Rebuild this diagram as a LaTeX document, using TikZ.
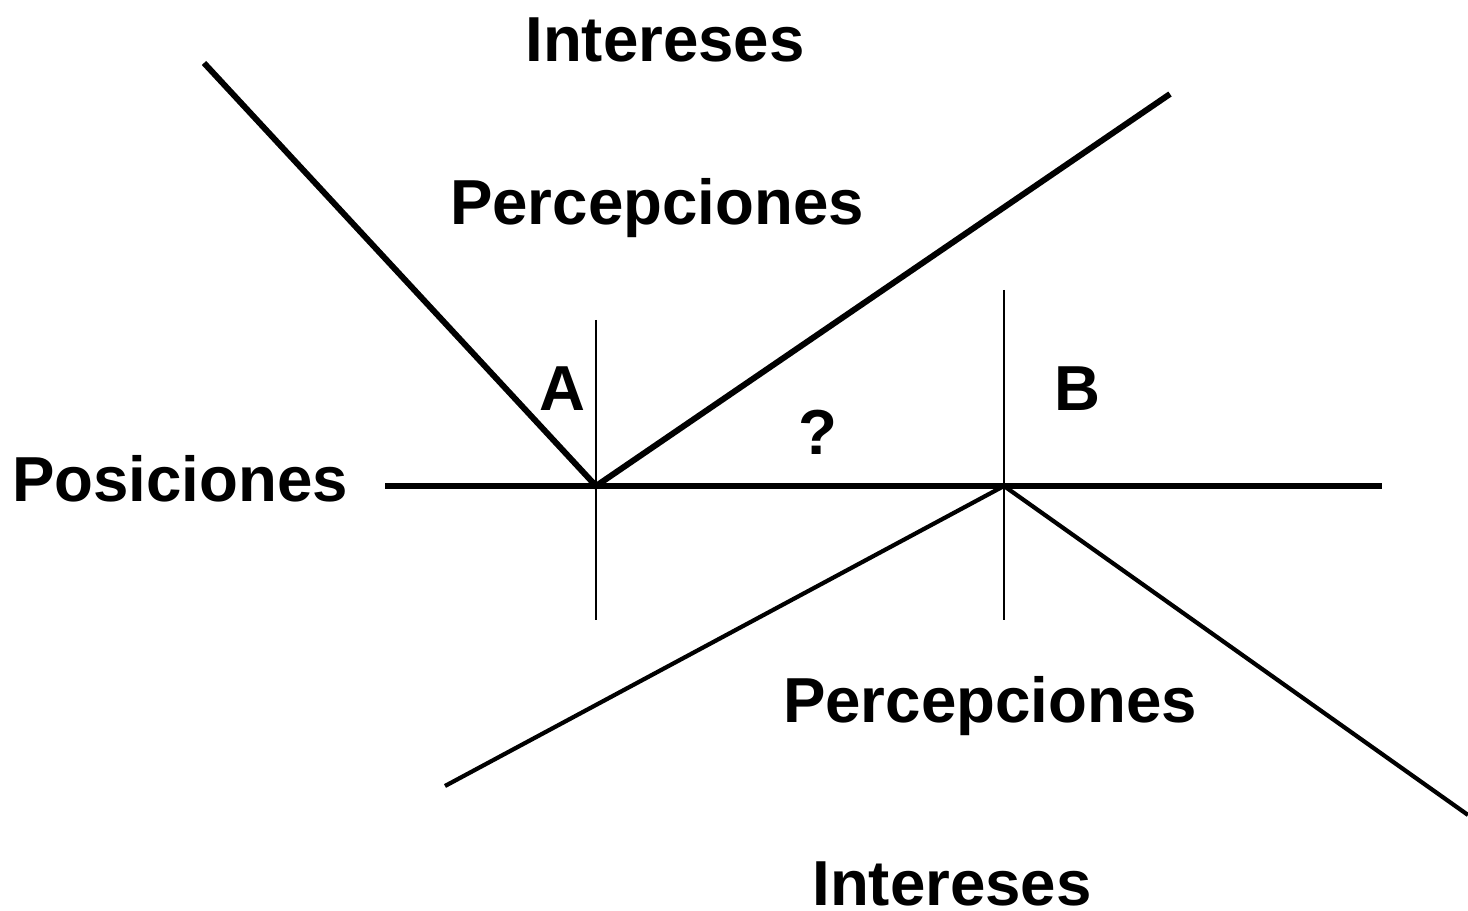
\documentclass[tikz,border=0pt]{standalone}
\usepackage{fontspec}
\setmainfont{Liberation Sans}
\begin{document}
\begin{tikzpicture}[x=0.02cm,y=-0.02cm,
  lbl/.style={font=\fontsize{36.2}{40}\selectfont\bfseries, inner sep=0pt},
  thickline/.style={line width=3.4pt},
  medline/.style={line width=2.4pt},
  thinline/.style={line width=1.1pt}]
\useasboundingbox (0,0) rectangle (1468,911);
\coordinate (A) at (596,486);
\coordinate (B) at (1004,486);
\coordinate (H1) at (385,486);
\coordinate (H2) at (1382,486);
\coordinate (UL) at (204,63);
\coordinate (UR) at (1170,94);
\coordinate (LL) at (445,786);
\coordinate (LR) at (1468,815);
\coordinate (VAt) at (596,320);
\coordinate (VAb) at (596,620);
\coordinate (VBt) at (1004,290);
\coordinate (VBb) at (1004,620);
\draw[thickline] (H1) -- (H2);
\draw[thickline] (UL) -- (A) -- (UR);
\draw[medline] (LL) -- (B) -- (LR);
\draw[thinline] (VAt) -- (VAb);
\draw[thinline] (VBt) -- (VBb);
\node[lbl] (int1) at (665,40) {Intereses};
\node[lbl] (per1) at (657,208) {Percepciones};
\node[lbl] (la) at (562,389) {A};
\node[lbl] (lq) at (818,432) {?};
\node[lbl] (lb) at (1077,389) {B};
\node[lbl] (pos) at (180,479) {Posiciones};
\node[lbl] (per2) at (990,706) {Percepciones};
\node[lbl] (int2) at (952,884) {Intereses};
\end{tikzpicture}
\end{document}
